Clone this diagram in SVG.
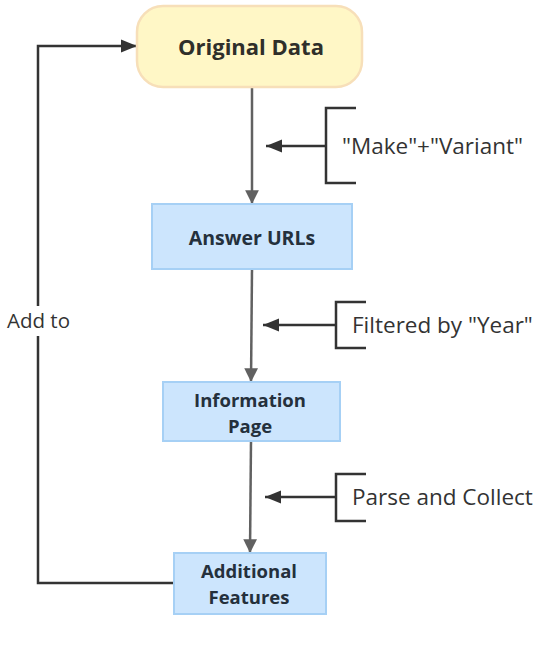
<svg xmlns="http://www.w3.org/2000/svg" width="547" height="651" viewBox="0 0 547 651">
<defs>
<style>
.blue{fill:#cce5fd;stroke:#a6d0f5;stroke-width:2}
.ntxt{font-family:"Open Sans","Noto Sans",sans-serif;font-weight:bold;font-size:19.5px;fill:#24303c;text-anchor:middle}
.two{font-size:18.5px}
.lbl{font-family:"Open Sans","Noto Sans",sans-serif;font-size:22.5px;fill:#333}
.main{stroke:#616161;stroke-width:2.5;fill:none}
.side{stroke:#333;stroke-width:2.5;fill:none}
</style>
<marker id="ahg" viewBox="0 0 10 10" refX="10" refY="5" markerWidth="5.5" markerHeight="5.5" orient="auto" markerUnits="strokeWidth"><path d="M0,0 L10,5 L0,10 z" fill="#616161"/></marker>
<marker id="ahd" viewBox="0 0 10 10" refX="10" refY="5" markerWidth="6.5" markerHeight="6.5" orient="auto" markerUnits="strokeWidth"><path d="M0,1 L10,5 L0,9 z" fill="#333"/></marker>
</defs>
<rect width="547" height="651" fill="#fff"/>
<g id="connectors">
<line class="main" x1="252" y1="88" x2="252" y2="204" marker-end="url(#ahg)"/>
<line class="main" x1="252" y1="269" x2="251" y2="382" marker-end="url(#ahg)"/>
<line class="main" x1="251" y1="441" x2="250" y2="553" marker-end="url(#ahg)"/>
<polyline class="side" points="174,583 38,583 38,46 137,46" marker-end="url(#ahd)"/>
<rect x="6" y="306" width="68" height="30" fill="#fff"/>
<text class="lbl" x="7" y="328" style="font-size:20.5px">Add to</text>
<polyline class="side" points="356,108 326,108 326,183 356,183"/>
<line class="side" x1="326" y1="146" x2="266" y2="146" marker-end="url(#ahd)"/>
<polyline class="side" points="366,302 336,302 336,348 366,348"/>
<line class="side" x1="336" y1="325" x2="263" y2="325" marker-end="url(#ahd)"/>
<polyline class="side" points="366,474 336,474 336,521 366,521"/>
<line class="side" x1="336" y1="497" x2="265" y2="497" marker-end="url(#ahd)"/>
</g>
<g id="label-make">
<text class="lbl" x="342" y="154">"Make"+"Variant"</text>
</g>
<g id="label-filter">
<text class="lbl" x="352" y="333">Filtered by "Year"</text>
</g>
<g id="label-parse">
<text class="lbl" x="352" y="505">Parse and Collect</text>
</g>
<g id="original-data">
<rect x="137" y="6" width="225" height="81" rx="26" fill="#fff7c6" stroke="#f7dfb9" stroke-width="2.5"/>
<text class="ntxt" x="251" y="55" style="font-size:22px;fill:#2f2f2a">Original Data</text>
</g>
<g id="answer-urls">
<rect class="blue" x="152" y="204" width="200" height="65"/>
<text class="ntxt" x="252" y="245">Answer URLs</text>
</g>
<g id="information-page">
<rect class="blue" x="163" y="382" width="177" height="59"/>
<text class="ntxt two" x="250" y="407">Information</text>
<text class="ntxt two" x="250" y="433">Page</text>
</g>
<g id="additional-features">
<rect class="blue" x="174" y="553" width="152" height="61"/>
<text class="ntxt two" x="249" y="578">Additional</text>
<text class="ntxt two" x="249" y="604">Features</text>
</g>
</svg>
